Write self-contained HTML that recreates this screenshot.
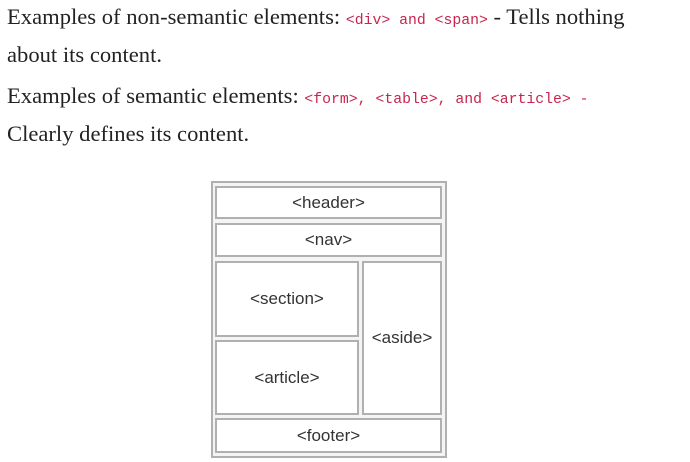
<!DOCTYPE html>
<html><head><meta charset="utf-8"><style>
body{margin:0;width:690px;height:462px;background:#fff;position:relative;overflow:hidden;font-family:"Liberation Serif",serif;color:#222}
.l{position:absolute;left:7px;font-size:22.6px;white-space:nowrap;line-height:24px}
code{font-family:"Liberation Mono",monospace;font-size:14.8px;color:#c7254e}
.b{position:absolute;box-sizing:border-box;border:2px solid #b0b0b0;background:#fff;display:flex;align-items:center;justify-content:center;font-family:"Liberation Sans",sans-serif;font-size:17px;color:#333}
</style></head><body>
<div class="l" style="top:5px">Examples of non-semantic elements: <code>&lt;div&gt; and &lt;span&gt;</code> - Tells nothing</div>
<div class="l" style="top:43px">about its content.</div>
<div class="l" style="top:84px">Examples of semantic elements: <code>&lt;form&gt;, &lt;table&gt;, and &lt;article&gt; -</code></div>
<div class="l" style="top:122px">Clearly defines its content.</div>
<div class="b" style="left:211px;top:181px;width:236px;height:277px;background:#f4f4f4"></div>
<div class="b" style="left:215px;top:186px;width:227px;height:33px">&lt;header&gt;</div>
<div class="b" style="left:215px;top:223px;width:227px;height:34px">&lt;nav&gt;</div>
<div class="b" style="left:215px;top:261px;width:144px;height:76px">&lt;section&gt;</div>
<div class="b" style="left:215px;top:340px;width:144px;height:75px">&lt;article&gt;</div>
<div class="b" style="left:362px;top:261px;width:80px;height:154px">&lt;aside&gt;</div>
<div class="b" style="left:215px;top:418px;width:227px;height:35px">&lt;footer&gt;</div>
</body></html>
